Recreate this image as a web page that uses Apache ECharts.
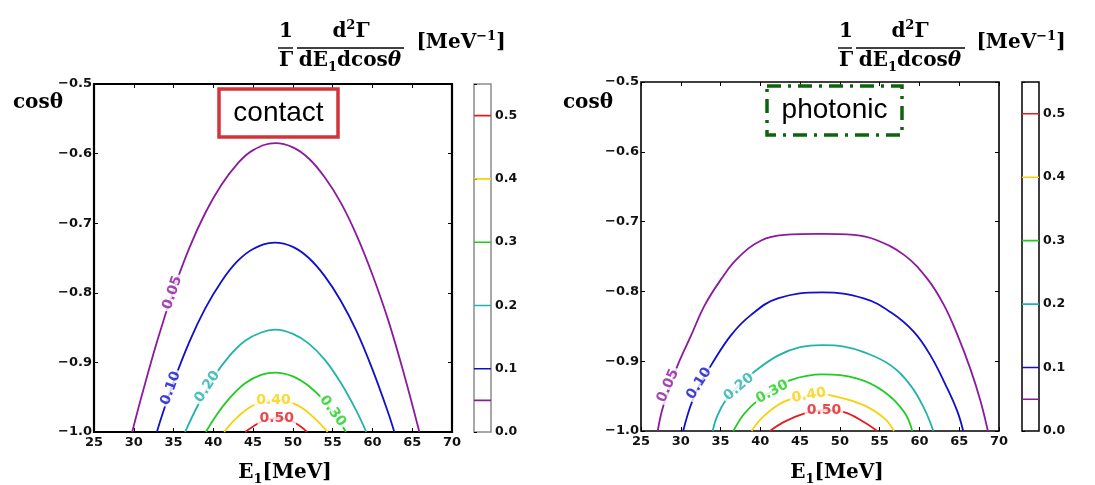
<!DOCTYPE html>
<html>
<head>
<meta charset="utf-8">
<title>contact / photonic</title>
<script src="https://cdn.jsdelivr.net/npm/echarts@6.0.0/dist/echarts.min.js"></script>
<style>
html,body{margin:0;padding:0;background:#fff;}
#main{width:1095px;height:485px;}
</style>
</head>
<body>
<div id="main"></div>
<script>
// contour levels and their colours (same for both panels)
var levels = [0.05, 0.1, 0.2, 0.3, 0.4, 0.5];
var levelColors = ['#8c1a9f', '#1010cc', '#22b2ac', '#1fcc1f', '#f7d10a', '#e61c22'];

// contact panel, contour points [E1 (MeV), cos theta]
var contact05 = [[29.8,-1.0],[31,-0.948],[33,-0.867],[35,-0.796],[37,-0.735],[39,-0.685],[41,-0.645],[43,-0.615],[45,-0.595],[47.8,-0.585],[50,-0.591],[52,-0.607],[54,-0.634],[56,-0.670],[58,-0.717],[60,-0.774],[62,-0.840],[64,-0.918],[65.9,-1.0]];
var contact10 = [[32.9,-1.0],[33.5,-0.978],[35,-0.928],[37,-0.870],[39,-0.822],[41,-0.784],[43,-0.755],[45,-0.737],[47.7,-0.728],[50,-0.734],[52,-0.750],[54,-0.776],[56,-0.811],[58,-0.855],[60,-0.910],[62,-0.973],[62.75,-1.0]];
var contact20 = [[36.45,-1.0],[38,-0.963],[40,-0.922],[42,-0.891],[44,-0.869],[46,-0.857],[47.77,-0.853],[50,-0.859],[52,-0.873],[54,-0.896],[56,-0.929],[58,-0.970],[59.22,-1.0]];
var contact30 = [[39.05,-1.0],[40.5,-0.974],[42,-0.952],[44,-0.930],[46,-0.918],[47.77,-0.9146],[50,-0.920],[52,-0.934],[54,-0.956],[55.5,-0.979],[56.67,-1.0]];
var contact40 = [[41.36,-1.0],[43,-0.979],[45,-0.962],[47.8,-0.953],[50.5,-0.961],[52.5,-0.978],[54.36,-1.0]];
var contact50 = [[44.0,-1.0],[45,-0.992],[46.3,-0.984],[47.9,-0.980],[49.5,-0.983],[50.7,-0.990],[51.8,-1.0]];
var contactLabels = [[34.86,-0.800,'0.05'],[34.65,-0.937,'0.10'],[39.26,-0.935,'0.20'],[55.0,-0.970,'0.30'],[47.56,-0.954,'0.40'],[47.98,-0.981,'0.50']];
var contactLabelAngles = [71, 70, 57, -54, 0, 0];

// photonic panel
var photonic05 = [[27.1,-1.0],[27.7,-0.968],[28.6,-0.939],[29.6,-0.906],[31.3,-0.863],[33.0,-0.820],[35.1,-0.782],[37.1,-0.753],[40.1,-0.727],[43.0,-0.719],[47.5,-0.7175],[51.8,-0.719],[54.5,-0.726],[58.1,-0.748],[61.0,-0.782],[63.1,-0.820],[64.8,-0.863],[66.4,-0.911],[67.7,-0.958],[68.6,-1.0]];
var photonic10 = [[30.3,-1.0],[31.2,-0.965],[32.3,-0.935],[33.8,-0.906],[36.3,-0.863],[38.8,-0.834],[42.2,-0.810],[47.8,-0.8014],[53.0,-0.810],[56.4,-0.830],[59.3,-0.858],[61.4,-0.892],[63.5,-0.939],[64.8,-0.973],[65.5,-1.0]];
var photonic20 = [[34.0,-1.0],[34.6,-0.978],[35.7,-0.955],[37.1,-0.937],[39.2,-0.9155],[42.2,-0.892],[45.0,-0.880],[47.8,-0.877],[50.5,-0.879],[53.0,-0.887],[56.4,-0.906],[58.9,-0.935],[60.6,-0.968],[61.75,-1.0]];
var photonic30 = [[36.6,-1.0],[38.0,-0.975],[39.8,-0.955],[41.5,-0.943],[43.8,-0.927],[47.8,-0.919],[52.2,-0.925],[55.6,-0.944],[58.1,-0.973],[59.1,-1.0]];
var photonic40 = [[38.9,-1.0],[40.5,-0.978],[43.0,-0.958],[46.1,-0.949],[47.8,-0.948],[49.7,-0.951],[53.0,-0.963],[55.6,-0.982],[56.8,-1.0]];
var photonic50 = [[41.2,-1.0],[43.0,-0.987],[45.5,-0.975],[48.0,-0.970],[50.5,-0.973],[53.0,-0.987],[54.7,-1.0]];
var photonicLabels = [[28.4,-0.935,'0.05'],[32.3,-0.932,'0.10'],[37.3,-0.937,'0.20'],[41.5,-0.944,'0.30'],[46.1,-0.949,'0.40'],[48.0,-0.970,'0.50']];
var photonicLabelAngles = [66, 58, 40, 28, 10, 0];

var contactLines = [contact05, contact10, contact20, contact30, contact40, contact50];
var photonicLines = [photonic05, photonic10, photonic20, photonic30, photonic40, photonic50];

var tickFont = {fontFamily:'DejaVu Sans', fontWeight:'bold', fontSize:13, color:'#111'};

function minusFmt(v){
	return (v < 0 ? '\u2212' : '') + Math.abs(v).toFixed(1);
}

function contourSeries(lines, xi, yi){
	return lines.map(function(pts, i){
		return {
			type:'line', xAxisIndex:xi, yAxisIndex:yi, data:pts,
			smooth:0.4, showSymbol:false, symbol:'none', silent:true,
			lineStyle:{color:levelColors[i], width:1.8}, z:2
		};
	});
}

function labelSeries(labels, angles, xi, yi){
	return {
		type:'scatter', xAxisIndex:xi, yAxisIndex:yi, symbolSize:1, silent:true, z:5,
		itemStyle:{color:'rgba(0,0,0,0)'},
		data: labels.map(function(l, i){
			return {
				value:[l[0], l[1]],
				label:{
					show:true, position:'inside', formatter:l[2], rotate:angles[i],
					color:levelColors[i], fontFamily:'DejaVu Sans', fontWeight:'bold', fontSize:14,
					backgroundColor:'#fff', padding:[0,2]
				}
			};
		})
	};
}

function cbarSeries(xi, yi){
	return levels.map(function(lv, i){
		return {
			type:'line', xAxisIndex:xi, yAxisIndex:yi, data:[[0,lv],[1,lv]], symbol:'none', silent:true,
			lineStyle:{color:levelColors[i], width:1.6}
		};
	});
}

function mainAxes(gi){
	var xs = [
		{type:'value', gridIndex:gi, min:25, max:70, interval:5, position:'bottom',
			axisLine:{show:false}, splitLine:{show:false},
			axisTick:{inside:true, length:4, lineStyle:{color:'#000'}},
			axisLabel:Object.assign({margin:4}, tickFont)},
		{type:'value', gridIndex:gi, min:25, max:70, interval:5, position:'top',
			axisLine:{show:false}, splitLine:{show:false}, axisLabel:{show:false},
			axisTick:{inside:true, length:4, lineStyle:{color:'#000'}}}
	];
	var ys = [
		{type:'value', gridIndex:gi, min:-1, max:-0.5, interval:0.1, position:'left',
			axisLine:{show:false}, splitLine:{show:false},
			axisTick:{inside:true, length:4, lineStyle:{color:'#000'}},
			axisLabel:Object.assign({margin:2, formatter:minusFmt}, tickFont)},
		{type:'value', gridIndex:gi, min:-1, max:-0.5, interval:0.1, position:'right',
			axisLine:{show:false}, splitLine:{show:false}, axisLabel:{show:false},
			axisTick:{inside:true, length:4, lineStyle:{color:'#000'}}}
	];
	return {x:xs, y:ys};
}

function cbarAxes(gi){
	return {
		x:{type:'value', gridIndex:gi, min:0, max:1, show:false},
		y:{type:'value', gridIndex:gi, min:0, max:0.55, interval:0.1, position:'right',
			axisLine:{show:false}, splitLine:{show:false},
			axisTick:{length:3, lineStyle:{color:'#000', width:1}},
			axisLabel:Object.assign({margin:4, formatter:function(v){
				return Math.abs(v*10 - Math.round(v*10)) < 1e-6 ? v.toFixed(1) : '';
			}}, tickFont, {fontSize:12.5})}
	};
}

var richSerif = {
	a:{fontFamily:'DejaVu Serif', fontWeight:'bold', fontSize:20, lineHeight:26, fill:'#000'},
	it:{fontFamily:'DejaVu Serif', fontWeight:'bold', fontStyle:'italic', fontSize:20, lineHeight:26, fill:'#000'},
	sup:{fontFamily:'DejaVu Serif', fontWeight:'bold', fontSize:13, lineHeight:13, verticalAlign:'top', fill:'#000'},
	sub:{fontFamily:'DejaVu Serif', fontWeight:'bold', fontSize:13, lineHeight:13, verticalAlign:'bottom', fill:'#000'}
};

function txt(x, y, text){
	return {type:'text', x:x, y:y, z:10, style:{text:text, rich:richSerif, align:'center', verticalAlign:'middle'}};
}
function bar(x1, x2, y){
	return {type:'line', z:10, shape:{x1:x1, y1:y, x2:x2, y2:y}, style:{stroke:'#000', lineWidth:1.4}};
}

// left panel headings
var graphics = [
	txt(286, 32, '{a|1}'), bar(278, 293, 48), txt(286, 61, '{a|\u0393}'),
	txt(351, 32, '{a|d}{sup|2}{a|\u0393}'), bar(297, 404, 48), txt(350, 61, '{a|dE}{sub|1}{a|dcos}{it|\u03b8}'),
	txt(461, 43, '{a|[MeV}{sup|\u22121}{a|]}'),
	txt(38, 103, '{a|cos\u03b8}'),
	txt(285, 473, '{a|E}{sub|1}{a|[MeV]}'),
	// right panel headings
	txt(846, 32, '{a|1}'), bar(838, 852, 48), txt(846, 61, '{a|\u0393}'),
	txt(910, 32, '{a|d}{sup|2}{a|\u0393}'), bar(856, 965, 48), txt(910, 61, '{a|dE}{sub|1}{a|dcos}{it|\u03b8}'),
	txt(1021, 43, '{a|[MeV}{sup|\u22121}{a|]}'),
	txt(588, 103, '{a|cos\u03b8}'),
	txt(837, 473, '{a|E}{sub|1}{a|[MeV]}'),
	// legend boxes
	{type:'rect', z:10, shape:{x:219, y:89, width:119, height:48}, style:{fill:'#fff', stroke:'#d3343a', lineWidth:3.5}},
	{type:'text', z:11, x:278.5, y:113, style:{text:'contact', font:'28px "Liberation Sans"', fill:'#000', align:'center', verticalAlign:'middle'}},
	{type:'rect', z:10, shape:{x:767, y:86, width:135, height:49}, style:{fill:'#fff', stroke:'#0e640e', lineWidth:3.5, lineDash:[14,7,3,7]}},
	{type:'text', z:11, x:834.5, y:110, style:{text:'photonic', font:'28px "Liberation Sans"', fill:'#000', align:'center', verticalAlign:'middle'}}
];

var leftAx = mainAxes(0), leftCb = cbarAxes(1), rightAx = mainAxes(2), rightCb = cbarAxes(3);

var option = {
	backgroundColor:'#fff',
	animation:false,
	grid:[
		{left:94, top:84, width:358, height:348, show:true, borderColor:'#000', borderWidth:2.2, backgroundColor:'transparent'},
		{left:474, top:84, width:17, height:348, show:true, borderColor:'#8c8c8c', borderWidth:1.5, backgroundColor:'transparent'},
		{left:641, top:82, width:358, height:349, show:true, borderColor:'#000', borderWidth:1.6, backgroundColor:'transparent'},
		{left:1022, top:82, width:17, height:349, show:true, borderColor:'#000', borderWidth:1.5, backgroundColor:'transparent'}
	],
	// x index: 0 left-bottom, 1 left-top, 2 left cbar, 3 right-bottom, 4 right-top, 5 right cbar
	xAxis:[leftAx.x[0], leftAx.x[1], leftCb.x, rightAx.x[0], rightAx.x[1], rightCb.x],
	yAxis:[leftAx.y[0], leftAx.y[1], leftCb.y, rightAx.y[0], rightAx.y[1], rightCb.y],
	graphic:graphics,
	series:[].concat(
		contourSeries(contactLines, 0, 0),
		[labelSeries(contactLabels, contactLabelAngles, 0, 0)],
		cbarSeries(2, 2),
		contourSeries(photonicLines, 3, 3),
		[labelSeries(photonicLabels, photonicLabelAngles, 3, 3)],
		cbarSeries(5, 5)
	)
};

var chart = echarts.init(document.getElementById('main'));
chart.setOption(option);
window.addEventListener('resize', function(){
	chart.resize();
});
</script>
</body>
</html>
